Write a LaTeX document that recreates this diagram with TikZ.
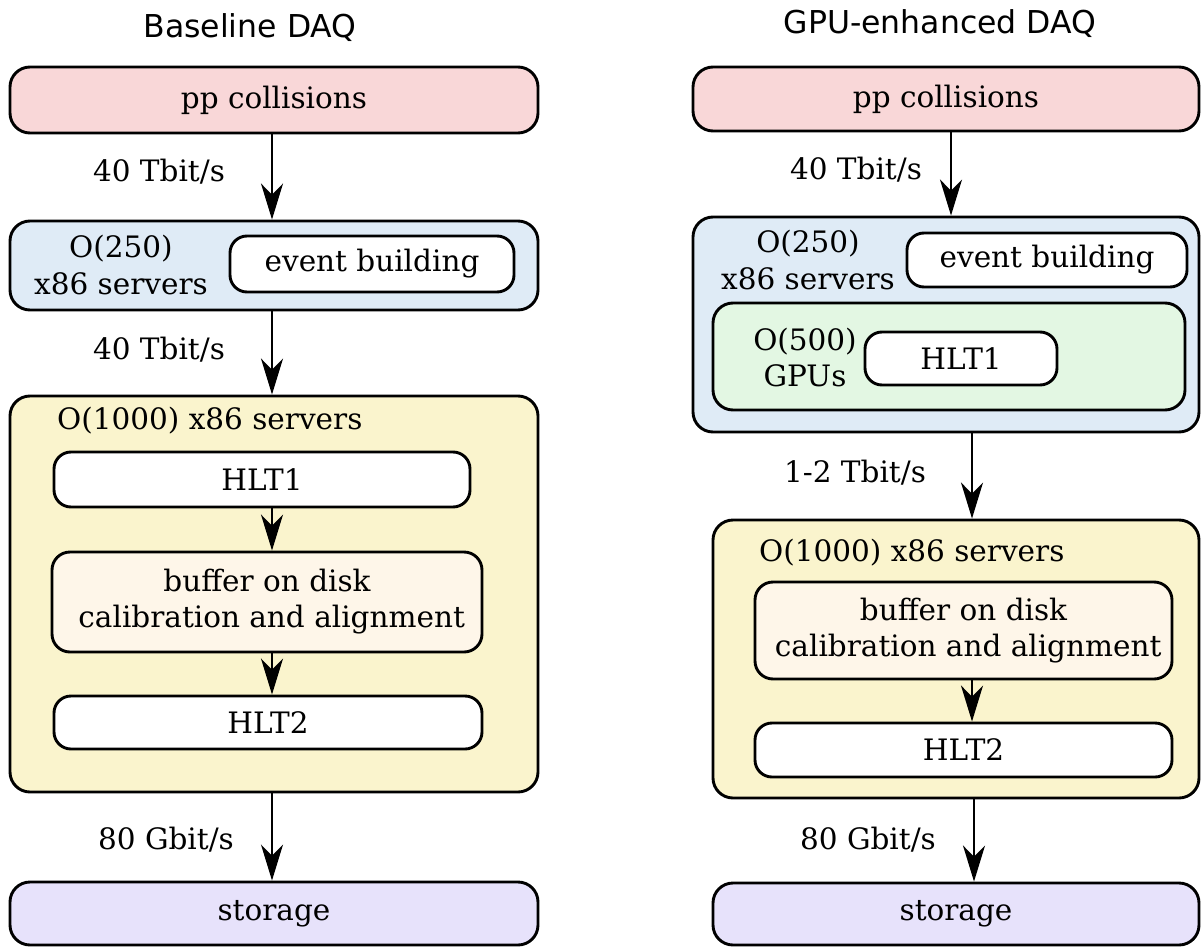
\documentclass[tikz,border=0pt]{standalone}
\usepackage{fontspec}
\setmainfont{DejaVu Serif}
\newfontfamily\titlefont{DejaVu Sans}
\usetikzlibrary{arrows.meta,positioning}

\definecolor{ppfill}{HTML}{F9D7D8}
\definecolor{farmfill}{HTML}{DFEBF6}
\definecolor{cpufill}{HTML}{FAF4CD}
\definecolor{gpufill}{HTML}{E3F7E3}
\definecolor{bufffill}{HTML}{FEF6E9}
\definecolor{storefill}{HTML}{E7E2FB}

\begin{document}
\begin{tikzpicture}[x=1pt,y=-1pt,
  font=\fontsize{29.5}{36}\selectfont,
  box/.style={draw, line width=2.9pt, rounded corners=20pt, inner sep=0pt, align=center},
  inbox/.style={box, rounded corners=17pt, fill=white},
  lbl/.style={inner sep=0pt, align=center},
  ttl/.style={inner sep=0pt, font=\titlefont\fontsize{31.5}{36}\selectfont},
  arr/.style={line width=2.1pt, -{Stealth[length=36pt,width=22pt,inset=11pt]}}
]
\useasboundingbox (0,0) rectangle (1201,947);

% ---------------- Baseline DAQ ----------------
\node[ttl] (t1) at (250,28) {Baseline DAQ};

\node[box, fill=ppfill, minimum width=528pt, minimum height=66pt] (pp1) at (274,100) {pp collisions};

\node[box, fill=farmfill, minimum width=528pt, minimum height=89pt] (eb1) at (274,265.5) {};
\node[lbl] (eb1l) at (121,265) {O(250)\\x86 servers};
\node[inbox, minimum width=284pt, minimum height=56pt] (evb1) at (372,264) {event building};

\node[box, fill=cpufill, minimum width=528pt, minimum height=396pt] (cpu1) at (274,594) {};
\node[lbl, anchor=west] (cpu1l) at (57,421) {O(1000) x86 servers};
\node[inbox, minimum width=416pt, minimum height=55pt] (h11) at (262,479.5) {HLT1};
\node[box, fill=bufffill, rounded corners=18pt, minimum width=430pt, minimum height=100pt] (buf1) at (267,602) {buffer on disk\\\ calibration and alignment};
\node[inbox, minimum width=428pt, minimum height=53pt] (h21) at (268,722.5) {HLT2};

\node[box, fill=storefill, minimum width=528pt, minimum height=63pt] (st1) at (274,913.5) {storage};

\coordinate (aL) at (272,0);
\draw[arr] (pp1.south -| aL) -- (eb1.north -| aL);
\draw[arr] (eb1.south -| aL) -- (cpu1.north -| aL);
\draw[arr] (h11.south -| aL) -- (buf1.north -| aL);
\draw[arr] (buf1.south -| aL) -- (h21.north -| aL);
\draw[arr] (cpu1.south -| aL) -- (st1.north -| aL);

\node[lbl] (r11) at (159,172) {40 Tbit/s};
\node[lbl] (r12) at (159,350) {40 Tbit/s};
\node[lbl] (r13) at (166,840) {80 Gbit/s};

% ---------------- GPU-enhanced DAQ ----------------
\node[ttl] (t2) at (940,24) {GPU-enhanced DAQ};

\node[box, fill=ppfill, minimum width=506pt, minimum height=64pt] (pp2) at (946,99) {pp collisions};

\node[box, fill=farmfill, minimum width=506pt, minimum height=215pt] (eb2) at (946,324.5) {};
\node[lbl] (eb2l) at (808,260) {O(250)\\x86 servers};
\node[inbox, minimum width=280pt, minimum height=54pt] (evb2) at (1047,260) {event building};
\node[box, fill=gpufill, minimum width=472pt, minimum height=107pt] (gpu2) at (949,356.5) {};
\node[lbl] (gpu2l) at (805,357) {O(500)\\GPUs};
\node[inbox, minimum width=192pt, minimum height=53pt] (h12) at (961,358.5) {HLT1};

\node[box, fill=cpufill, minimum width=486pt, minimum height=278pt] (cpu2) at (956,659) {};
\node[lbl, anchor=west] (cpu2l) at (759,553) {O(1000) x86 servers};
\node[box, fill=bufffill, rounded corners=18pt, minimum width=417pt, minimum height=97pt] (buf2) at (963.5,630.5) {buffer on disk\\\ calibration and alignment};
\node[inbox, minimum width=417pt, minimum height=54pt] (h22) at (963.5,750) {HLT2};

\node[box, fill=storefill, minimum width=486pt, minimum height=62pt] (st2) at (956,914) {storage};

\coordinate (aR1) at (951,0);
\coordinate (aR2) at (972,0);
\coordinate (aR3) at (974,0);
\draw[arr] (pp2.south -| aR1) -- (eb2.north -| aR1);
\draw[arr] (eb2.south -| aR2) -- (cpu2.north -| aR2);
\draw[arr] (buf2.south -| aR2) -- (h22.north -| aR2);
\draw[arr] (cpu2.south -| aR3) -- (st2.north -| aR3);

\node[lbl] (r21) at (856,170) {40 Tbit/s};
\node[lbl] (r22) at (855,473) {1-2 Tbit/s};
\node[lbl] (r23) at (868,840) {80 Gbit/s};
\end{tikzpicture}
\end{document}
